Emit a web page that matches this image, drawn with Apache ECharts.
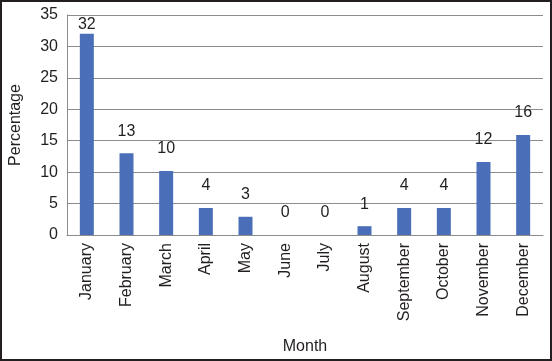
<!DOCTYPE html>
<html>
<head>
<meta charset="utf-8">
<script src="https://cdn.jsdelivr.net/npm/echarts@6/dist/echarts.min.js"></script>
<style>
  html, body { margin: 0; padding: 0; background: #fff; }
  #main { width: 552px; height: 361px; }
</style>
</head>
<body>
<div id="main"></div>
<script>
var months = ['January', 'February', 'March', 'April', 'May', 'June', 'July', 'August', 'September', 'October', 'November', 'December'];
var values = [32, 13, 10.2, 4.3, 2.9, 0, 0, 1.4, 4.3, 4.3, 11.6, 15.9];
var labels = ['32', '13', '10', '4', '3', '0', '0', '1', '4', '4', '12', '16'];
var yTicks = [0, 5, 10, 15, 20, 25, 30, 35];

var myChart = echarts.init(document.getElementById('main'));
var font = 'Liberation Sans, Arial, sans-serif';

option = {
    animation: false,
    backgroundColor: '#fff',
    graphic: [{
        type: 'rect',
        shape: { x: 1, y: 1, width: 550, height: 359 },
        style: { fill: 'none', stroke: '#231f20', lineWidth: 2 },
        z: 100
    }],
    grid: {
        left: 66,
        right: 9,
        top: 15,
        bottom: 126
    },
    xAxis: {
        type: 'category',
        data: months,
        name: 'Month',
        nameLocation: 'middle',
        nameGap: 104,
        nameTextStyle: { fontFamily: font, fontSize: 16, color: '#231f20' },
        axisLine: { lineStyle: { color: '#8c8c8c', width: 1 } },
        axisTick: { show: false },
        axisLabel: {
            rotate: 90,
            interval: 0,
            margin: 8,
            fontFamily: font,
            fontSize: 16,
            color: '#231f20'
        }
    },
    yAxis: {
        type: 'value',
        min: yTicks[0],
        max: yTicks[yTicks.length - 1],
        interval: 5,
        name: 'Percentage',
        nameLocation: 'middle',
        nameGap: 43,
        nameTextStyle: { fontFamily: font, fontSize: 16, color: '#231f20' },
        axisLine: { show: true, lineStyle: { color: '#8c8c8c', width: 1 } },
        axisTick: { show: false },
        axisLabel: {
            margin: 9,
            fontFamily: font,
            fontSize: 16,
            color: '#231f20'
        },
        splitLine: { lineStyle: { color: '#8c8c8c', width: 1 } }
    },
    series: [{
        type: 'bar',
        barWidth: 14,
        itemStyle: { color: '#4A6EB7' },
        label: {
            show: true,
            position: 'top',
            distance: 14,
            fontFamily: font,
            fontSize: 16,
            color: '#231f20',
            formatter: function (p) { return labels[p.dataIndex]; }
        },
        data: values.map(function (v, i) {
            return i === 0 ? { value: v, label: { distance: 1 } } : v;
        })
    }]
};

myChart.setOption(option);
window.onresize = myChart.resize;
</script>
</body>
</html>
